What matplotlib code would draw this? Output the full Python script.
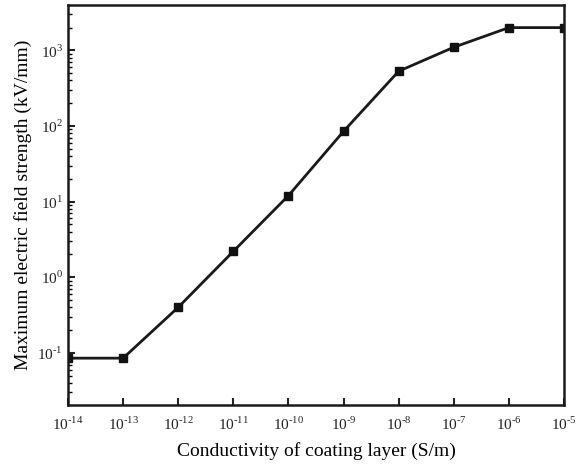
import numpy as np
import matplotlib
matplotlib.use("Agg")
import matplotlib.pyplot as plt
from matplotlib.ticker import LogLocator, NullFormatter, FixedLocator, FuncFormatter

plt.rcParams["font.family"] = ["Liberation Serif", "DejaVu Serif"]
plt.rcParams["mathtext.fontset"] = "custom"
plt.rcParams["mathtext.rm"] = "Liberation Serif"
plt.rcParams["axes.unicode_minus"] = False

# conductivity exponents and max field strength (kV/mm)
cond_exp = [-14, -13, -12, -11, -10, -9, -8, -7, -6, -5]
field = [0.085, 0.085, 0.40, 2.2, 12.0, 85.0, 530.0, 1100.0, 2000.0, 2000.0]

cond = [10.0 ** e for e in cond_exp]


def pow_label(e):
    e = int(round(e))
    if e < 0:
        return rf"$10^{{\text{{-}}{-e}}}$"
    return rf"$10^{{{e}}}$"


fig = plt.figure(figsize=(5.8, 4.68), dpi=100)
ax = fig.add_axes([68 / 580, 1 - 405 / 468, 496 / 580, 400 / 468])

ax.plot(cond, field, color="#1a1a1a", lw=2, marker="s", ms=6,
        mfc="#111111", mec="#111111", clip_on=True)

ax.set_xscale("log")
ax.set_yscale("log")
ax.set_xlim(1e-14, 1e-5)
ax.set_ylim(10 ** -1.69, 10 ** 3.6)

ax.xaxis.set_major_locator(FixedLocator(cond))
ax.set_xticklabels([pow_label(e) for e in cond_exp])
ax.xaxis.set_minor_locator(FixedLocator([]))
ax.yaxis.set_major_locator(LogLocator(base=10, numticks=10))
ax.yaxis.set_major_formatter(FuncFormatter(lambda v, p: pow_label(np.log10(v))))
ax.yaxis.set_minor_locator(LogLocator(base=10, subs=np.arange(2, 10), numticks=10))
ax.yaxis.set_minor_formatter(NullFormatter())

ax.tick_params(axis="both", which="major", direction="in", length=5, width=1.5,
               labelsize=11, colors="#222222", top=False, right=False)
ax.tick_params(axis="y", which="minor", direction="in", length=3, width=1.0,
               right=False)
ax.tick_params(axis="x", pad=8)

for sp in ax.spines.values():
    sp.set_linewidth(1.8)
    sp.set_color("#1a1a1a")

ax.set_xlabel("Conductivity of coating layer (S/m)", fontsize=14, labelpad=6)
ax.set_ylabel("Maximum electric field strength (kV/mm)", fontsize=14, labelpad=4)

fig.savefig("out.png", dpi=100)
